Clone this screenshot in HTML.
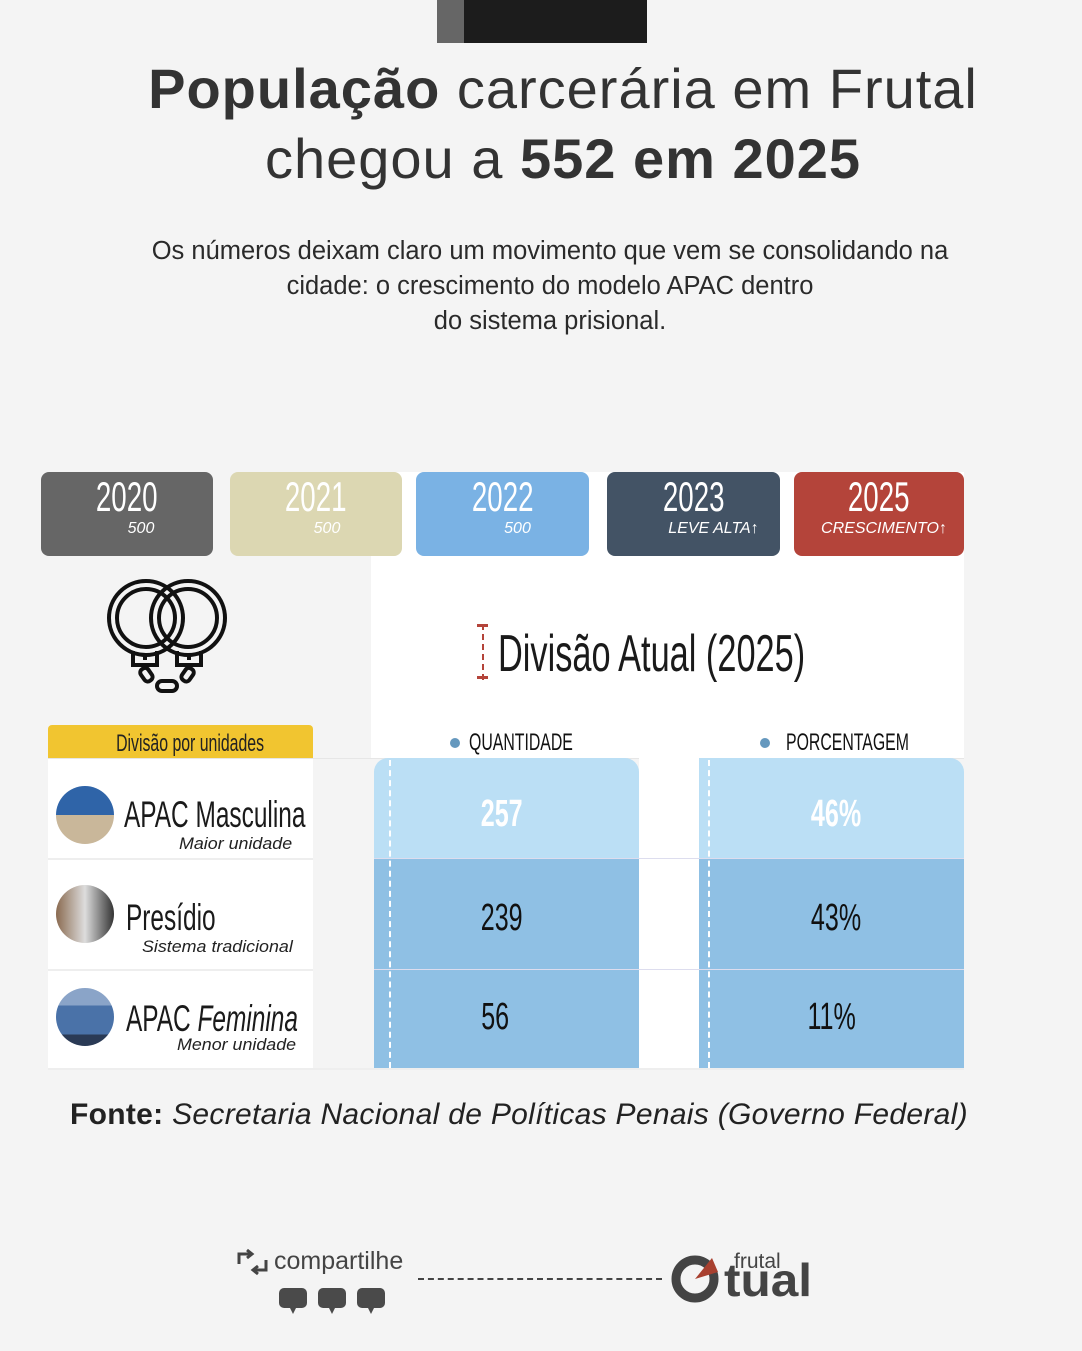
<!DOCTYPE html>
<html><head><meta charset="utf-8"><style>
*{margin:0;padding:0;box-sizing:border-box}
body{width:1082px;height:1351px;background:#f4f4f4;position:relative;overflow:hidden;font-family:"Liberation Sans",sans-serif;color:#333}
.a{position:absolute;white-space:nowrap}
.c{display:inline-block;transform:scaleX(.66);transform-origin:0 0;white-space:nowrap}
.cc{display:inline-block;transform:scaleX(.66);transform-origin:50% 0;white-space:nowrap}
.yr{position:absolute;top:472px;height:84px;border-radius:8px;color:#fff;text-align:center}
.yr .y{font-size:42px;line-height:44px;margin-top:3px}
.yr .s{font-style:italic;font-size:16px;line-height:20px;font-weight:300}
.row{position:absolute;left:48px;width:265px;background:#fff}
.circ{position:absolute;left:56px;width:58px;height:58px;border-radius:50%}
.big{position:absolute;font-size:37px;line-height:40px;color:#1a1a1a}
.sub{position:absolute;font-style:italic;font-size:17px;color:#222;white-space:nowrap;transform:scaleX(1.05);transform-origin:0 0}
.num{position:absolute;font-size:38px;line-height:40px;color:#111;text-align:center}
</style></head><body>
<div class="a" style="left:437px;top:0;width:27px;height:43px;background:#666"></div>
<div class="a" style="left:464px;top:0;width:183px;height:43px;background:#1c1c1c"></div>
<div class="a" style="left:0;top:54px;width:1126px;text-align:center;font-size:56px;line-height:70px;color:#333;letter-spacing:1px"><b>População</b> carcerária em Frutal<br>chegou a <b>552 em 2025</b></div>
<div class="a" style="left:0;top:234px;width:1100px;text-align:center;font-size:25.5px;line-height:35px;color:#2a2a2a">Os números deixam claro um movimento que vem se consolidando na<br>cidade: o crescimento do modelo APAC dentro<br>do sistema prisional.</div>

<div class="a" style="left:371px;top:472px;width:593px;height:286px;background:#fff"></div>
<div class="yr" style="left:41px;width:172px;background:#666"><div class="y"><span class="cc">2020</span></div><div class="s" style="padding-left:28px">500</div></div>
<div class="yr" style="left:230px;width:172px;background:#dcd7b2"><div class="y"><span class="cc">2021</span></div><div class="s" style="padding-left:22px">500</div></div>
<div class="yr" style="left:416px;width:173px;background:#7ab2e4"><div class="y"><span class="cc">2022</span></div><div class="s" style="padding-left:30px">500</div></div>
<div class="yr" style="left:607px;width:173px;background:#435365"><div class="y"><span class="cc">2023</span></div><div class="s" style="padding-left:40px">LEVE ALTA↑</div></div>
<div class="yr" style="left:794px;width:170px;background:#b4443a"><div class="y"><span class="cc">2025</span></div><div class="s" style="padding-left:10px">CRESCIMENTO↑</div></div>

<svg class="a" style="left:100px;top:560px" width="140" height="140" viewBox="0 0 140 140" fill="none" stroke="#111" stroke-width="4">
<circle cx="46" cy="58" r="37"/><circle cx="46" cy="58" r="29"/>
<circle cx="88" cy="58" r="37"/><circle cx="88" cy="58" r="29"/>
<path d="M33 91v14h24v-14M101 91v14h-24v-14"/>
<path d="M45 93v7M89 93v7"/>
<rect x="42" y="108" width="9" height="14" rx="4" transform="rotate(-35 46 115)"/>
<rect x="83" y="108" width="9" height="14" rx="4" transform="rotate(35 88 115)"/>
<rect x="57" y="121" width="20" height="10" rx="5"/>
</svg>

<div class="a" style="left:482px;top:624px;height:56px;border-left:2px dashed #b4443a"></div>
<div class="a" style="left:477px;top:624px;width:11px;height:3px;background:#b4443a"></div>
<div class="a" style="left:477px;top:676px;width:11px;height:3px;background:#b4443a"></div>
<div class="a" style="left:498px;top:624px;font-size:52px;line-height:60px;color:#1a1a1a"><span class="c">Divisão Atual (2025)</span></div>

<div class="a" style="left:48px;top:725px;width:265px;height:34px;background:#f1c530;border-radius:4px 4px 0 0"></div>
<div class="a" style="left:48px;top:730px;width:285px;text-align:center;font-size:24px;color:#222"><span class="cc">Divisão por unidades</span></div>
<div class="a" style="left:450px;top:738px;width:10px;height:10px;border-radius:50%;background:#6598be"></div>
<div class="a" style="left:469px;top:729px;font-size:24px;color:#111"><span class="c">QUANTIDADE</span></div>
<div class="a" style="left:760px;top:738px;width:10px;height:10px;border-radius:50%;background:#6598be"></div>
<div class="a" style="left:786px;top:729px;font-size:24px;color:#111"><span class="c">PORCENTAGEM</span></div>

<div class="a" style="left:48px;top:758px;width:916px;height:1px;background:#e6e6e6"></div>
<div class="row" style="top:759px;height:99px"></div>
<div class="row" style="top:860px;height:109px"></div>
<div class="row" style="top:971px;height:97px"></div>

<div class="a" style="left:374px;top:758px;width:265px;height:100px;background:#bbdff5;border-radius:14px 14px 0 0"></div>
<div class="a" style="left:374px;top:859px;width:265px;height:209px;background:#8fc0e4"></div>
<div class="a" style="left:699px;top:758px;width:265px;height:100px;background:#bbdff5;border-radius:0 14px 0 0"></div>
<div class="a" style="left:699px;top:859px;width:265px;height:209px;background:#8fc0e4"></div>
<div class="a" style="left:639px;top:758px;width:60px;height:310px;background:#fff"></div>
<div class="a" style="left:374px;top:858px;width:590px;height:1px;background:#dde"></div>
<div class="a" style="left:374px;top:969px;width:590px;height:1px;background:#dde"></div>
<div class="a" style="left:48px;top:858px;width:265px;height:2px;background:#eee"></div>
<div class="a" style="left:48px;top:969px;width:265px;height:2px;background:#eee"></div>
<div class="a" style="left:48px;top:1068px;width:916px;height:2px;background:#eee"></div>
<div class="a" style="left:389px;top:760px;height:308px;border-left:2px dashed #fff"></div>
<div class="a" style="left:708px;top:760px;height:308px;border-left:2px dashed #fff"></div>

<div class="circ" style="top:786px;background:linear-gradient(#2f64a8 0 50%,#c9b79a 50%)"></div>
<div class="big" style="left:124px;top:795px"><span class="c">APAC Masculina</span></div>
<div class="sub" style="left:179px;top:834px">Maior unidade</div>
<div class="circ" style="top:885px;background:linear-gradient(90deg,#8a6a50,#ddd 50%,#333)"></div>
<div class="big" style="left:126px;top:898px"><span class="c">Presídio</span></div>
<div class="sub" style="left:142px;top:937px">Sistema tradicional</div>
<div class="circ" style="top:988px;background:linear-gradient(#8aa4c8 0 30%,#4a72a8 30% 80%,#2a3a55 80%)"></div>
<div class="big" style="left:126px;top:999px"><span class="c">APAC <i>Feminina</i></span></div>
<div class="sub" style="left:177px;top:1035px">Menor unidade</div>

<div class="num" style="left:374px;width:255px;top:794px;color:#fff;font-weight:bold"><span class="cc">257</span></div>
<div class="num" style="left:374px;width:255px;top:898px"><span class="cc">239</span></div>
<div class="num" style="left:374px;width:243px;top:997px"><span class="cc">56</span></div>
<div class="num" style="left:699px;width:275px;top:794px;color:#fff;font-weight:bold"><span class="cc">46%</span></div>
<div class="num" style="left:699px;width:275px;top:898px"><span class="cc">43%</span></div>
<div class="num" style="left:699px;width:265px;top:997px"><span class="cc">11%</span></div>

<div class="a" style="left:70px;top:1098px;font-size:30px;color:#222;letter-spacing:0.3px"><b>Fonte:</b> <i>Secretaria Nacional de Políticas Penais (Governo Federal)</i></div>

<svg class="a" style="left:236px;top:1248px" width="36" height="30" fill="none" stroke="#444" stroke-width="3">
<path d="M3 16V6h12M11 2l5 4-5 4"/><path d="M30 12v10H18M22 18l-5 4 5 4"/>
</svg>
<div class="a" style="left:274px;top:1247px;font-size:25px;color:#444">compartilhe</div>
<svg class="a" style="left:279px;top:1288px" width="110" height="28" fill="#4a4a4a">
<rect x="0" y="0" width="28" height="20" rx="5"/><path d="M11 20h6l-3 6z"/>
<rect x="39" y="0" width="28" height="20" rx="5"/><path d="M50 20h6l-3 6z"/>
<rect x="78" y="0" width="28" height="20" rx="5"/><path d="M89 20h6l-3 6z"/>
</svg>
<div class="a" style="left:418px;top:1278px;width:244px;border-top:2px dashed #444"></div>
<svg class="a" style="left:670px;top:1248px" width="150" height="58">
<circle cx="25" cy="31" r="19" fill="none" stroke="#444" stroke-width="9"/>
<path d="M25 31L42 10L48 24Z" fill="#a8402f"/>
<text x="64" y="20" font-family="Liberation Sans" font-size="21" fill="#444">frutal</text>
<text x="54" y="48" font-family="Liberation Sans" font-weight="bold" font-size="46" fill="#444" textLength="88" lengthAdjust="spacingAndGlyphs">tual</text>
</svg>
</body></html>
